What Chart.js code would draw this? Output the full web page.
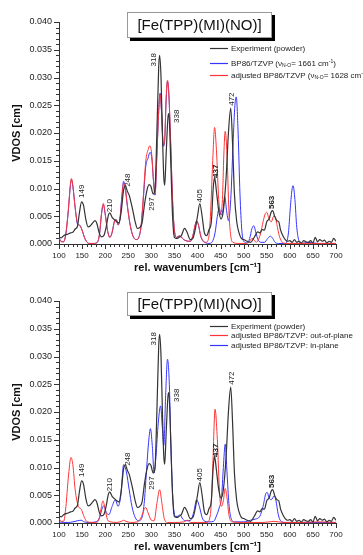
<!DOCTYPE html>
<html>
<head>
<meta charset="utf-8">
<script src="https://cdn.jsdelivr.net/npm/chart.js@4.4.0/dist/chart.umd.min.js"></script>
<style>
    body { margin: 0; width: 363px; height: 555px; overflow: hidden; background: #fff; position: relative;
           font-family: 'Liberation Sans', Arial, sans-serif; }
    .panel { position: absolute; left: 0; width: 363px; height: 278px; }
    .title-box { position: absolute; left: 127px; width: 145px; box-sizing: border-box; border: 1px solid #999;
                 background: #fff; box-shadow: 3px 3px 0 #000; text-align: center; font-size: 15px; color: #111; }
    .legend-row { position: absolute; left: 210px; font-size: 8px; color: #222; white-space: nowrap; height: 10px; line-height: 10px; }
    .legend-row svg { vertical-align: middle; margin-right: 3px; }
    .legend-row sub { font-size: 5px; vertical-align: -1px; }
    .legend-row sup { font-size: 5px; vertical-align: 3px; }
</style>
</head>
<body>
<div class="panel" style="top:0"><canvas id="chart-top" width="363" height="278"></canvas></div>
<div class="panel" style="top:279px"><canvas id="chart-bottom" width="363" height="278"></canvas></div>

<div class="title-box" style="top:12px;height:26px;line-height:24px">[Fe(TPP)(MI)(NO)]</div>
<div class="title-box" style="top:292px;height:24px;line-height:22px">[Fe(TPP)(MI)(NO)]</div>

<div class="legend-row" style="top:44px"><svg width="18" height="3"><line x1="0" y1="1.5" x2="18" y2="1.5" stroke="#333" stroke-width="1.2"/></svg>Experiment (powder)</div>
<div class="legend-row" style="top:56px"><svg width="18" height="3"><line x1="0" y1="1.5" x2="18" y2="1.5" stroke="#3535ff" stroke-width="1.2"/></svg>BP86/TZVP (ν<sub>N-O</sub>= 1661 cm<sup>-1</sup>)</div>
<div class="legend-row" style="top:68px"><svg width="18" height="3"><line x1="0" y1="1.5" x2="18" y2="1.5" stroke="#ff3535" stroke-width="1.2"/></svg>adjusted BP86/TZVP (ν<sub>N-O</sub>= 1628 cm<sup>-1</sup>)</div>

<div class="legend-row" style="top:322px"><svg width="18" height="3"><line x1="0" y1="1.5" x2="18" y2="1.5" stroke="#333" stroke-width="1.2"/></svg>Experiment (powder)</div>
<div class="legend-row" style="top:331px"><svg width="18" height="3"><line x1="0" y1="1.5" x2="18" y2="1.5" stroke="#ff3535" stroke-width="1.2"/></svg>adjusted BP86/TZVP: out-of-plane</div>
<div class="legend-row" style="top:341px"><svg width="18" height="3"><line x1="0" y1="1.5" x2="18" y2="1.5" stroke="#3535ff" stroke-width="1.2"/></svg>adjusted BP86/TZVP: in-plane</div>

<script>
// Ejes
const xTickValues = [100, 150, 200, 250, 300, 350, 400, 450, 500, 550, 600, 650, 700];
const yTickValues = [0, 0.005, 0.010, 0.015, 0.020, 0.025, 0.030, 0.035, 0.040];

// Experimento (polvo) - igual en los dos paneles
const expWn = [
    100, 105, 110, 115, 120, 125, 130, 135, 140, 144,
    149, 153, 158, 163, 168, 173, 178, 182, 187, 192,
    197, 202, 207, 210, 215, 220, 225, 230, 235, 240,
    244, 248, 252, 256, 260, 265, 270, 275, 280, 285,
    290, 295, 299, 304, 308, 312, 316, 318, 321, 324,
    327, 329, 332, 336, 338, 342, 346, 350, 355, 360,
    365, 372, 378, 384, 390, 396, 400, 405, 410, 415,
    420, 425, 430, 434, 437, 441, 446, 451, 456, 462,
    467, 472, 476, 480, 485, 490, 495, 500, 505, 510,
    515, 520, 525, 530, 535, 540, 545, 550, 555, 560,
    563, 567, 572, 576, 580, 585, 590, 595, 600, 605,
    610, 615, 620, 625, 630, 635, 640, 645, 650, 655,
    660, 665, 670, 675, 680, 685, 690, 695, 700
];
const expVdos = [
    .0013, .0011, .0015, .0017, .0018, .0020, .0021, .0027, .0032, .0055,
    .0076, .0070, .0045, .0031, .0033, .0038, .0042, .0037, .0020, .0013,
    .0015, .0030, .0052, .0056, .0048, .0044, .0040, .0038, .0060, .0098,
    .0105, .0095, .0088, .0075, .0060, .0040, .0028, .0030, .0038, .0070,
    .0095, .0107, .0104, .0090, .0100, .0200, .0320, .0340, .0300, .0200,
    .0120, .0106, .0160, .0228, .0235, .0150, .0050, .0012, .0010, .0012,
    .0015, .0028, .0020, .0008, .0010, .0030, .0050, .0073, .0050, .0020,
    .0015, .0026, .0040, .0100, .0120, .0095, .0060, .0045, .0060, .0120,
    .0200, .0245, .0180, .0090, .0040, .0020, .0010, .0008, .0006, .0004,
    .0003, .0008, .0015, .0022, .0020, .0026, .0025, .0040, .0045, .0058,
    .0060, .0050, .0042, .0040, .0025, .0015, .0008, .0005, .0006, .0003,
    .0008, .0003, .0005, .0002, .0006, .0004, .0003, .0006, .0002, .0012,
    .0004, .0008, .0005, .0007, .0002, .0005, .0003, .0010, .0005
];

// BP86/TZVP ajustado (rojo, panel superior)
const adjWn = [
    100, 105, 110, 115, 120, 125, 127, 130, 135, 140,
    145, 150, 155, 160, 165, 175, 183, 188, 192, 196,
    200, 205, 210, 215, 220, 224, 228, 232, 236, 240,
    244, 248, 253, 258, 263, 268, 273, 278, 283, 288,
    293, 297, 301, 305, 308, 312, 316, 319, 322, 326,
    329, 332, 335, 338, 342, 346, 350, 355, 360, 365,
    370, 375, 380, 385, 390, 395, 398, 402, 407, 412,
    418, 424, 428, 433, 437, 441, 446, 450, 454, 457,
    460, 464, 468, 472, 477, 490, 505, 512, 518, 522,
    527, 532, 537, 542, 547, 550, 555, 560, 565, 568,
    572, 577, 582, 590, 700
];
const adjVdos = [
    .0010, .0004, .0004, .0020, .0060, .0110, .0118, .0105, .0065, .0038,
    .0033, .0025, .0012, .0004, .0001, .0001, .0003, .0020, .0055, .0073,
    .0055, .0025, .0012, .0020, .0040, .0044, .0035, .0045, .0080, .0110,
    .0098, .0070, .0040, .0020, .0010, .0008, .0012, .0035, .0090, .0150,
    .0170, .0177, .0160, .0110, .0090, .0160, .0240, .0270, .0240, .0178,
    .0190, .0260, .0295, .0270, .0180, .0080, .0025, .0012, .0015, .0013,
    .0008, .0006, .0005, .0005, .0015, .0035, .0042, .0035, .0015, .0006,
    .0003, .0010, .0050, .0150, .0210, .0170, .0080, .0055, .0080, .0160,
    .0203, .0160, .0060, .0015, .0003, .0001, .0001, .0004, .0010, .0008,
    .0003, .0008, .0020, .0040, .0055, .0057, .0045, .0040, .0050, .0050,
    .0035, .0015, .0005, .0001, .0001
];

// BP86/TZVP sin ajustar (azul, panel superior)
const calcWn = [
    100, 105, 110, 115, 120, 125, 127, 130, 135, 140,
    145, 150, 155, 160, 165, 175, 183, 188, 192, 196,
    200, 205, 210, 215, 220, 224, 228, 232, 236, 240,
    244, 248, 253, 258, 263, 268, 273, 278, 283, 288,
    293, 297, 301, 305, 308, 312, 316, 319, 322, 326,
    329, 332, 335, 338, 342, 346, 350, 355, 360, 365,
    370, 375, 380, 385, 390, 395, 398, 402, 407, 412,
    418, 425, 432, 438, 443, 447, 451, 455, 459, 463,
    467, 472, 477, 481, 484, 488, 492, 496, 500, 508,
    513, 518, 522, 526, 531, 537, 545, 552, 558, 563,
    568, 575, 590, 597, 601, 605, 607, 611, 615, 620,
    625, 640, 660, 700
];
const calcVdos = [
    .0011, .0005, .0004, .0019, .0058, .0108, .0116, .0104, .0066, .0036,
    .0034, .0025, .0012, .0004, .0001, .0001, .0003, .0019, .0053, .0071,
    .0054, .0025, .0012, .0021, .0041, .0044, .0034, .0046, .0085, .0113,
    .0097, .0069, .0040, .0020, .0010, .0008, .0012, .0033, .0085, .0140,
    .0155, .0165, .0155, .0110, .0088, .0160, .0240, .0272, .0238, .0176,
    .0188, .0258, .0293, .0268, .0178, .0078, .0024, .0012, .0014, .0012,
    .0008, .0006, .0005, .0005, .0015, .0034, .0041, .0034, .0014, .0005,
    .0002, .0001, .0004, .0020, .0050, .0065, .0052, .0060, .0085, .0060,
    .0042, .0080, .0180, .0250, .0265, .0200, .0090, .0025, .0005, .0002,
    .0010, .0028, .0033, .0022, .0008, .0003, .0003, .0010, .0014, .0010,
    .0003, .0001, .0001, .0020, .0065, .0100, .0105, .0080, .0030, .0005,
    .0001, .0003, .0001, .0001
];

// Fuera del plano (rojo, panel inferior)
const oopWn = [
    100, 105, 110, 115, 120, 126, 130, 135, 142, 148,
    155, 160, 170, 180, 186, 191, 195, 200, 205, 212,
    225, 235, 240, 245, 255, 270, 278, 283, 288, 293,
    300, 306, 312, 318, 323, 328, 335, 350, 370, 378,
    385, 400, 420, 428, 433, 438, 443, 448, 452, 456,
    460, 464, 468, 475, 500, 540, 555, 565, 575, 590,
    620, 660, 700
];
const oopVdos = [
    .0008, .0003, .0003, .0030, .0080, .0118, .0105, .0060, .0030, .0025,
    .0010, .0003, .0001, .0001, .0005, .0025, .0040, .0025, .0006, .0002,
    .0001, .0003, .0005, .0003, .0001, .0002, .0010, .0022, .0028, .0018,
    .0005, .0004, .0035, .0060, .0035, .0008, .0001, .0001, .0002, .0005,
    .0001, .0001, .0001, .0015, .0100, .0205, .0150, .0050, .0030, .0040,
    .0062, .0045, .0015, .0002, .0001, .0001, .0002, .0003, .0002, .0001,
    .0001, .0002, .0001
];

// En el plano (azul, panel inferior)
const ipWn = [
    100, 110, 120, 130, 140, 148, 155, 165, 180, 188,
    193, 197, 203, 208, 215, 222, 228, 234, 240, 246,
    252, 258, 265, 272, 280, 285, 290, 294, 298, 302,
    306, 310, 315, 320, 324, 327, 331, 335, 339, 343,
    347, 352, 357, 362, 368, 375, 385, 392, 398, 404,
    410, 416, 425, 435, 442, 448, 452, 456, 460, 464,
    468, 473, 480, 500, 515, 525, 535, 542, 548, 551,
    555, 560, 566, 570, 575, 580, 590, 620, 700
];
const ipVdos = [
    .0002, .0001, .0001, .0002, .0004, .0005, .0002, .0001, .0002, .0010,
    .0025, .0031, .0018, .0015, .0030, .0042, .0030, .0050, .0105, .0092,
    .0060, .0030, .0010, .0004, .0010, .0040, .0100, .0145, .0170, .0140,
    .0090, .0120, .0180, .0211, .0170, .0140, .0230, .0295, .0250, .0120,
    .0040, .0012, .0012, .0015, .0007, .0004, .0005, .0020, .0042, .0030,
    .0010, .0003, .0002, .0003, .0015, .0030, .0045, .0100, .0142, .0090,
    .0035, .0008, .0002, .0002, .0005, .0007, .0012, .0030, .0053, .0055,
    .0045, .0042, .0049, .0040, .0015, .0004, .0001, .0001, .0001
];

// Etiquetas de picos
const peakText = ['149', '210', '248', '297', '318', '338', '405', '437', '472', '563'];
const peakWn   = [150, 211, 250, 301, 306, 356, 405, 440, 475, 561];
const peakVdos = [.0083, .0057, .0103, .0060, .0320, .0218, .0075, .0119, .0249, .0063];
const peakBold = ['437', '563'];

const FONT = "'Liberation Sans', Arial, sans-serif";
const BLACK = '#333333';
const RED = '#ff3535';
const BLUE = '#3535ff';

function points(xs, ys) {
    return xs.map((x, i) => ({ x: x, y: ys[i] }));
}

function lineSet(label, xs, ys, color, width) {
    return {
        label: label,
        data: points(xs, ys),
        borderColor: color,
        borderWidth: width,
        pointRadius: 0,
        fill: false,
        cubicInterpolationMode: 'monotone'
    };
}

// Marcas menores/mayores y etiquetas rotadas
const decorPlugin = {
    id: 'decor',
    afterDraw(chart) {
        const ctx = chart.ctx;
        const xs = chart.scales.x;
        const ys = chart.scales.y;
        const area = chart.chartArea;
        ctx.save();
        ctx.strokeStyle = '#333';
        ctx.lineWidth = 1;
        ctx.beginPath();
        for (let w = 100; w <= 700; w += 10) {
            const px = Math.round(xs.getPixelForValue(w)) + 0.5;
            const len = xTickValues.includes(w) ? 5 : 3;
            ctx.moveTo(px, area.bottom);
            ctx.lineTo(px, area.bottom + len);
        }
        for (let i = 0; i <= 40; i++) {
            const py = Math.round(ys.getPixelForValue(i / 1000)) + 0.5;
            const len = i % 5 === 0 ? 5 : 3;
            ctx.moveTo(area.left - len, py);
            ctx.lineTo(area.left, py);
        }
        ctx.stroke();

        ctx.fillStyle = '#222';
        ctx.textAlign = 'left';
        ctx.textBaseline = 'middle';
        peakText.forEach((t, i) => {
            const px = xs.getPixelForValue(peakWn[i]);
            const py = ys.getPixelForValue(peakVdos[i]);
            ctx.font = (peakBold.includes(t) ? 'bold ' : '') + '8px ' + FONT;
            ctx.save();
            ctx.translate(px, py);
            ctx.rotate(-Math.PI / 2);
            ctx.fillText(t, 0, 0);
            ctx.restore();
        });
        ctx.restore();
    }
};

function makeChart(canvasId, datasets) {
    const ctx = document.getElementById(canvasId).getContext('2d');
    return new Chart(ctx, {
        type: 'line',
        data: { datasets: datasets },
        options: {
            responsive: false,
            animation: false,
            devicePixelRatio: 1,
            layout: { padding: { left: 0, right: 27, top: 22, bottom: 0 } },
            plugins: { legend: { display: false }, tooltip: { enabled: false } },
            scales: {
                x: {
                    type: 'linear',
                    min: 100,
                    max: 700,
                    afterBuildTicks: scale => { scale.ticks = xTickValues.map(v => ({ value: v })); },
                    afterFit: scale => { scale.height = 34; },
                    ticks: { font: { family: FONT, size: 8 }, color: '#222', padding: 2, maxRotation: 0, autoSkip: false },
                    grid: { display: false, drawTicks: true, tickLength: 5 },
                    border: { display: true, color: '#333', width: 1 },
                    title: {
                        display: true,
                        text: 'rel. wavenumbers [cm⁻¹]',
                        font: { family: FONT, size: 11, weight: 'bold' },
                        color: '#111',
                        padding: { top: 0, bottom: 3 }
                    }
                },
                y: {
                    min: 0,
                    max: 0.04,
                    afterBuildTicks: scale => { scale.ticks = yTickValues.map(v => ({ value: v })); },
                    afterFit: scale => { scale.width = 59; },
                    ticks: {
                        font: { family: FONT, size: 9 },
                        color: '#222',
                        padding: 2,
                        callback: v => v.toFixed(3)
                    },
                    grid: { display: false, drawTicks: true, tickLength: 5 },
                    border: { display: true, color: '#333', width: 1 },
                    title: {
                        display: true,
                        text: 'VDOS [cm]',
                        font: { family: FONT, size: 11, weight: 'bold' },
                        color: '#111',
                        padding: { top: 10, bottom: 0 }
                    }
                }
            }
        },
        plugins: [decorPlugin]
    });
}

makeChart('chart-top', [
    lineSet('Experiment (powder)', expWn, expVdos, BLACK, 1.2),
    lineSet('adjusted BP86/TZVP', adjWn, adjVdos, RED, 1),
    lineSet('BP86/TZVP', calcWn, calcVdos, BLUE, 1)
]);

makeChart('chart-bottom', [
    lineSet('Experiment (powder)', expWn, expVdos, BLACK, 1.2),
    lineSet('adjusted BP86/TZVP: out-of-plane', oopWn, oopVdos, RED, 1),
    lineSet('adjusted BP86/TZVP: in-plane', ipWn, ipVdos, BLUE, 1)
]);
</script>
</body>
</html>
